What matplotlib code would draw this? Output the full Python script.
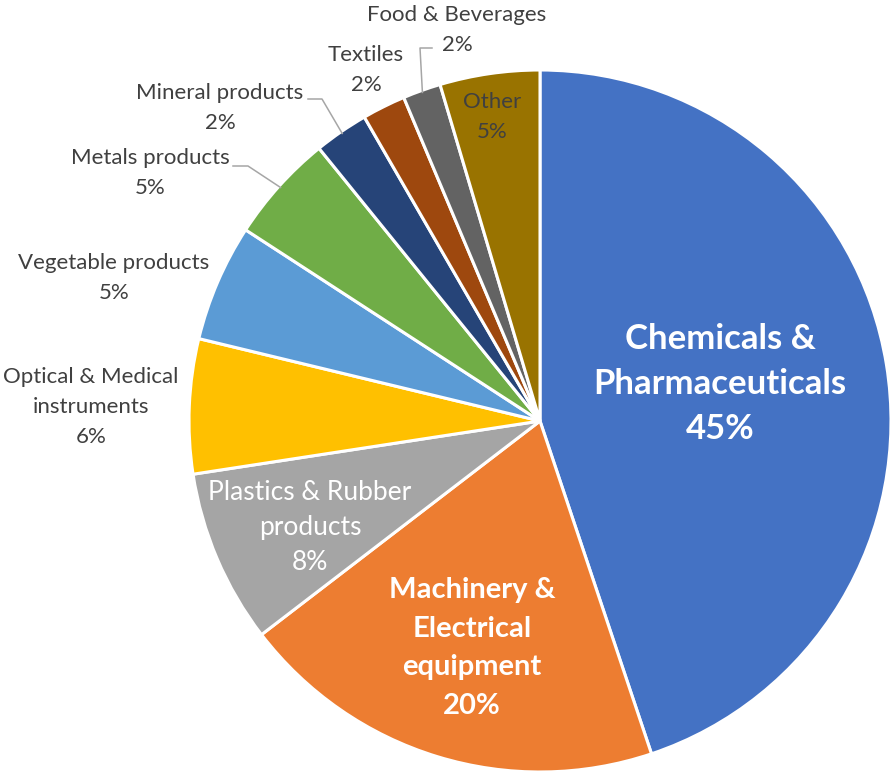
import numpy as np
import matplotlib
matplotlib.use("Agg")
import matplotlib.pyplot as plt

# Export shares by product group (percent)
categories = ["Chemicals &\nPharmaceuticals", "Machinery &\nElectrical\nequipment",
              "Plastics & Rubber\nproducts", "Optical & Medical\ninstruments",
              "Vegetable products", "Metals products", "Mineral products",
              "Textiles", "Food & Beverages", "Other"]
shares = [44.9, 19.75, 8.0, 6.2, 5.4, 5.0, 2.5, 2.0, 1.75, 4.6]
colors = ["#4472C4", "#ED7D31", "#A5A5A5", "#FFC000", "#5B9BD5",
          "#70AD47", "#264478", "#9E480E", "#636363", "#997300"]

W, H = 890, 774
CX, CY, R = 540, 421, 351

plt.rcParams["font.family"] = ["Lato", "DejaVu Sans"]

fig = plt.figure(figsize=(W / 100, H / 100), dpi=100)
ax = fig.add_axes([0, 0, 1, 1])

wedges, _ = ax.pie(shares, colors=colors, startangle=90, counterclock=False,
                   center=(CX, H - CY), radius=R,
                   wedgeprops=dict(edgecolor="white", linewidth=2.2))

# pie() resets limits, so fix the pixel frame afterwards
ax.set_xlim(0, W)
ax.set_ylim(0, H)
ax.set_aspect("equal")
ax.axis("off")

total = sum(shares)
pcts = [f"{round(v / total * 100)}%" for v in shares]

# label placement (pixel coords from top-left), color, size, weight, line spacing
txt = "#404040"
label_style = [
    ((720, 384), "white", 25, "bold", 1.5),
    ((472, 648), "white", 21, "bold", 1.6),
    ((310, 528), "white", 19, "normal", 1.5),
    ((91, 407), txt, 16, "normal", 1.6),
    ((114, 278), txt, 16, "normal", 1.6),
    ((150, 173), txt, 16, "normal", 1.6),
    ((220, 108), txt, 16, "normal", 1.6),
    ((366, 70), txt, 16, "normal", 1.6),
    ((457, 30), txt, 16, "normal", 1.6),
    ((492, 117), txt, 16, "normal", 1.6),
]

for name, pct, (pos, col, fs, fw, ls) in zip(categories, pcts, label_style):
    ax.text(pos[0], H - pos[1], f"{name}\n{pct}", ha="center", va="center",
            color=col, fontsize=fs, fontweight=fw, linespacing=ls)

# leader lines: elbow near the label, end at the wedge's outer mid point
leaders = {5: (233, 248, 166), 6: (308, 322, 99), 8: (432, 420, 48)}
for i, (x0, x1, y0) in leaders.items():
    w = wedges[i]
    mid = np.deg2rad((w.theta1 + w.theta2) / 2)
    ex = CX + (R - 2) * np.cos(mid)
    ey = (H - CY) + (R - 2) * np.sin(mid)
    ax.plot([x0, x1, ex], [H - y0, H - y0, ey], color="#A6A6A6", lw=1.1)

fig.savefig("out.png", dpi=100)
